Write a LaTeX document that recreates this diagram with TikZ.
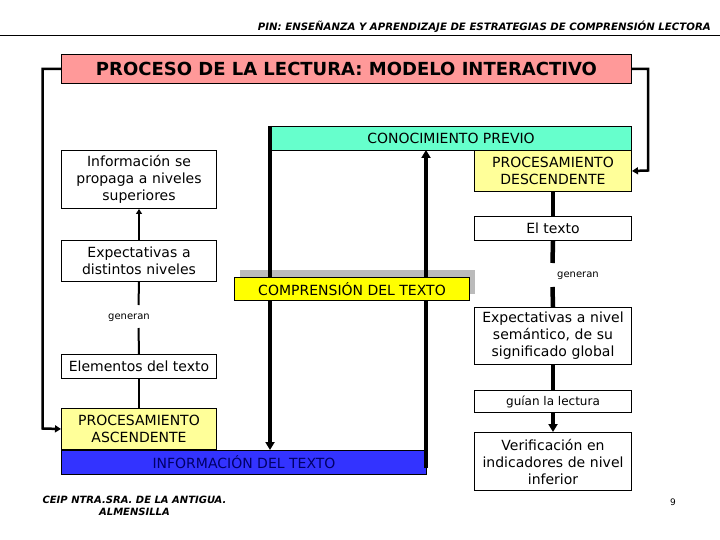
\documentclass[tikz,border=0pt]{standalone}
\usepackage{fontspec}
\setmainfont{DejaVu Sans}
\usetikzlibrary{arrows.meta}
\definecolor{titlered}{HTML}{FF9999}
\definecolor{aqua}{HTML}{66FFCC}
\definecolor{lightyel}{HTML}{FFFF99}
\definecolor{brightyel}{HTML}{FFFF00}
\definecolor{bluebox}{HTML}{3333FF}
\definecolor{navytext}{HTML}{000066}
\definecolor{shadowgray}{HTML}{BBBBBB}
\begin{document}
\begin{tikzpicture}[x=1pt,y=-1pt,
  box/.style={draw=black, line width=1pt, inner sep=0pt, align=center, anchor=north west,
    font=\fontsize{14}{17}\selectfont},
  thinline/.style={line width=2pt},
  fbline/.style={line width=2.5pt},
  thickline/.style={line width=4.5pt},
  fbarrow/.style={fbline,-{Triangle[width=7pt,length=6pt]}},
  thickarrow/.style={thickline,-{Triangle[width=9pt,length=8pt]}},
  smallarrow/.style={thinline,-{Triangle[width=6pt,length=5pt]}},
  gen/.style={font=\fontsize{10}{12}\selectfont, inner sep=0pt},
  hdr/.style={font=\fontsize{10.2}{12}\bfseries\itshape\selectfont, inner sep=0pt}
]
\useasboundingbox (0,0) rectangle (720,540);
\fill[white] (0,0) rectangle (720,540);

% header
\node[hdr, anchor=base east] (hdr) at (711,30.5) {PIN: ENSEÑANZA Y APRENDIZAJE DE ESTRATEGIAS DE COMPRENSIÓN LECTORA};
\coordinate (hl1) at (0,35.5);
\coordinate (hl2) at (720,35.5);
\draw[line width=1.5pt] (hl1) -- (hl2);

% title
\node[box, fill=titlered, minimum width=570pt, minimum height=29pt,
  font=\fontsize{18}{21}\bfseries\selectfont] (title) at (61,54) {PROCESO DE LA LECTURA: MODELO INTERACTIVO};

% comprension shadow (behind lines)
\fill[shadowgray] (240,270) rectangle (475,294);

% conocimiento previo
\node[box, fill=aqua, minimum width=361pt, minimum height=24pt] (con) at (270,126) {CONOCIMIENTO PREVIO};

% left column
\node[box, minimum width=155pt, minimum height=58pt, text width=150pt] (info) at (61,150) {Información se\\propaga a niveles\\superiores};
\node[box, minimum width=155pt, minimum height=41pt, text width=150pt] (expd) at (61,240) {Expectativas a\\distintos niveles};
\node[box, minimum width=155pt, minimum height=24pt] (elem) at (61,354) {Elementos del texto};
\node[box, fill=lightyel, minimum width=155pt, minimum height=41pt, text width=150pt] (asc) at (61,408) {PROCESAMIENTO\\ASCENDENTE};
\node[box, fill=bluebox, text=navytext, minimum width=365pt, minimum height=24pt] (itx) at (61,450) {INFORMACIÓN DEL TEXTO};

% right column
\node[box, fill=lightyel, minimum width=157pt, minimum height=41pt, text width=150pt] (desc) at (474,150) {PROCESAMIENTO\\DESCENDENTE};
\node[box, minimum width=157pt, minimum height=24pt] (eltx) at (474,216) {El texto};
\node[box, minimum width=157pt, minimum height=57pt, text width=155pt] (expn) at (474,307) {Expectativas a nivel\\semántico, de su\\significado global};
\node[box, minimum width=157pt, minimum height=22pt, font=\fontsize{12}{14}\selectfont] (guian) at (474,390) {guían la lectura};
\node[box, minimum width=157pt, minimum height=58pt, text width=155pt] (verif) at (474,432) {Verificación en\\indicadores de nivel\\inferior};

% feedback loops
\coordinate (fl1) at (42.5,69);
\coordinate (fl2) at (42.5,428.5);
\draw[fbarrow] (title.west) -- (fl1) -- (fl2) -- (asc.west);
\coordinate (fr1) at (648,69);
\coordinate (fr2) at (648,170.5);
\draw[fbarrow] (title.east) -- (fr1) -- (fr2) -- (desc.east);

% big vertical arrows
\coordinate (dtop) at (270,126);
\coordinate (dbot) at (270,450);
\draw[thickarrow] (dtop) -- (dbot);
\coordinate (ubot) at (426,468);
\coordinate (utop) at (426,150);
\draw[thickarrow] (ubot) -- (utop);

% left column connectors
\draw[smallarrow] (expd.north) -- (info.south);
\coordinate (gl1) at (138.5,305);
\coordinate (gl2) at (138.5,328);
\draw[thinline] (expd.south) -- (gl1);
\draw[thinline] (gl2) -- (elem.north);
\node[gen] (genl) at (129,318) {generan};
\draw[thinline] (elem.south) -- (asc.north);

% right column connectors
\draw[thickline] (desc.south) -- (eltx.north);
\coordinate (gr1) at (552.5,263);
\coordinate (gr2) at (552.5,287);
\draw[thickline] (eltx.south) -- (gr1);
\draw[thickline] (gr2) -- (expn.north);
\node[gen, anchor=west] (genr) at (557,276) {generan};
\draw[thickline] (expn.south) -- (guian.north);
\draw[thickarrow] (guian.south) -- (verif.north);

% comprension del texto
\node[box, fill=brightyel, minimum width=235pt, minimum height=23pt] (comp) at (234,277) {COMPRENSIÓN DEL TEXTO};

% footer
\node[hdr, font=\fontsize{10}{12}\bfseries\itshape\selectfont, align=center, anchor=north] (foot) at (134.5,496) {CEIP NTRA.SRA. DE LA ANTIGUA.\\ALMENSILLA};
\node[font=\fontsize{9}{10}\selectfont, inner sep=0pt, anchor=base] (pg) at (673,505) {9};
\end{tikzpicture}
\end{document}
